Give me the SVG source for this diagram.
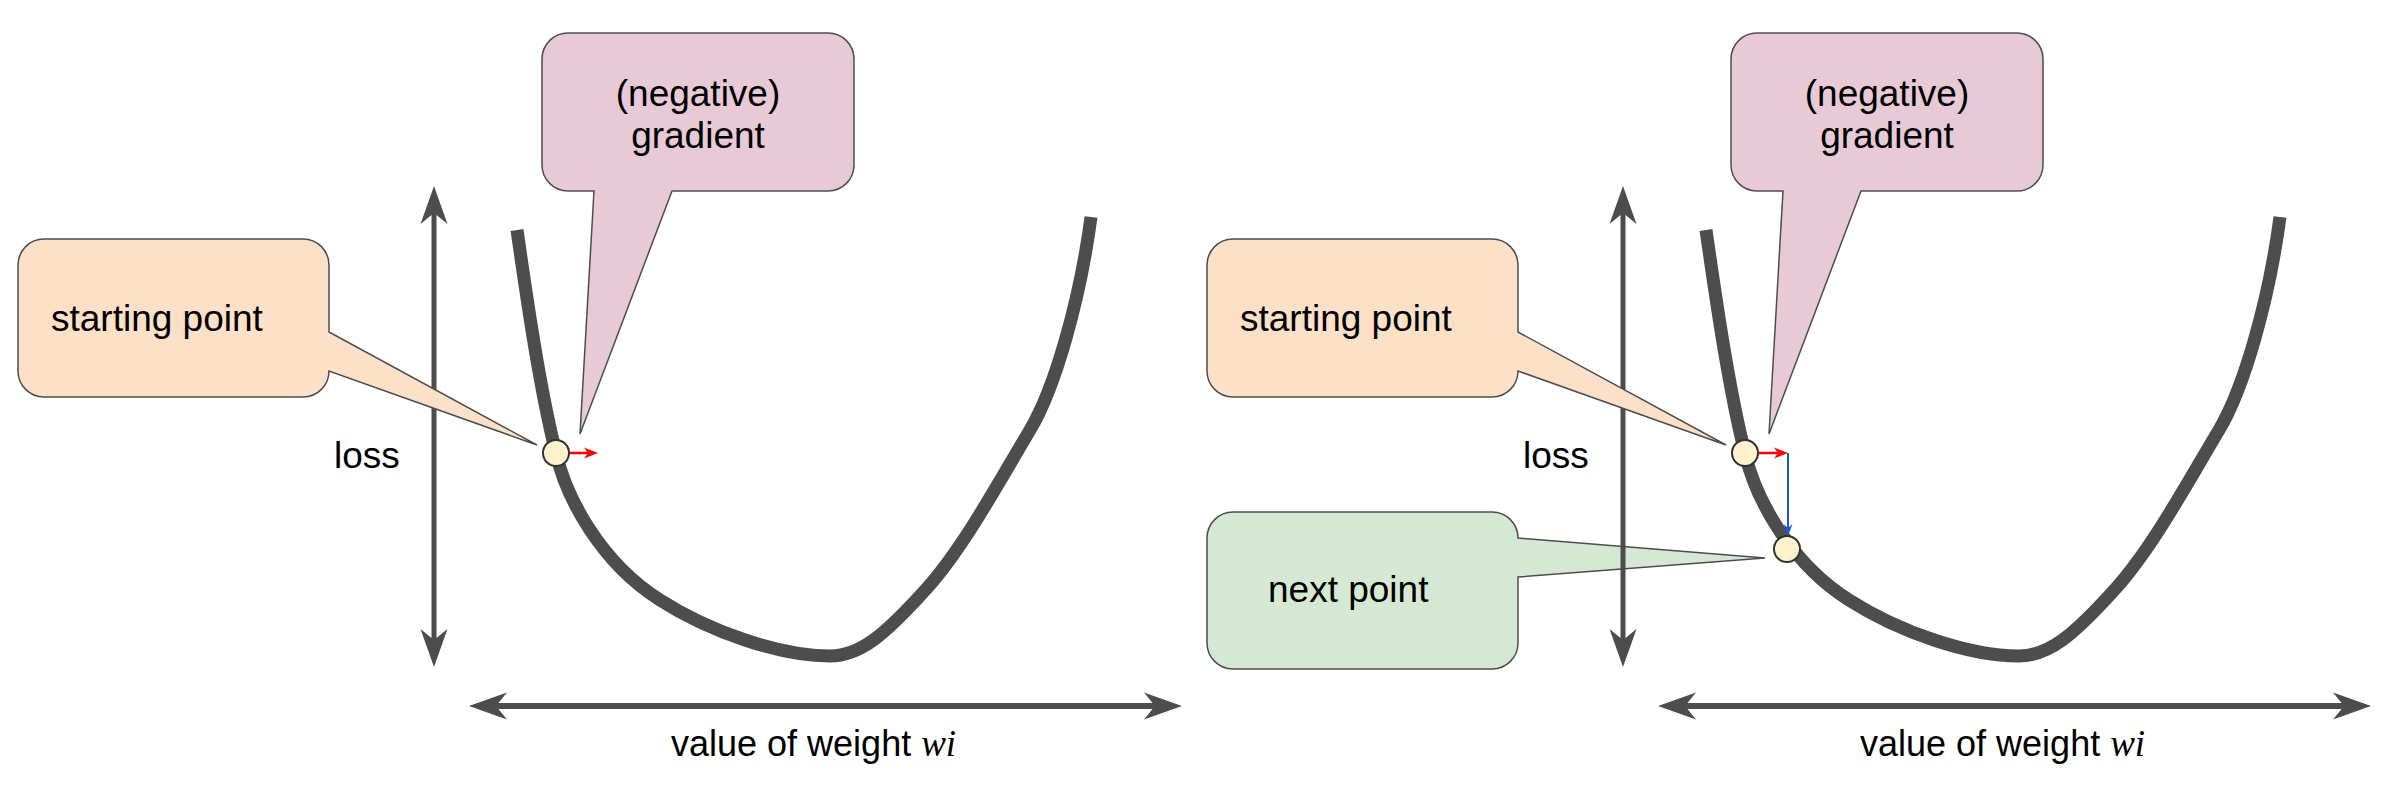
<svg xmlns="http://www.w3.org/2000/svg" width="2382" height="786" viewBox="0 0 2382 786">
<defs>
<style>
.txt{font-family:"Liberation Sans",Arial,Helvetica,sans-serif;font-size:37px;fill:#000}
.ax{font-family:"Liberation Sans",Arial,Helvetica,sans-serif;font-size:36px;fill:#000}
.var{font-family:"Liberation Serif","Times New Roman",serif;font-style:italic;font-size:37px}
.curve{fill:none;stroke:#4D4D4D;stroke-width:13;stroke-linecap:butt}
.axis{fill:none;stroke:#4D4D4D}
.pink{fill:#E8CAD7;stroke:#4D4D4D;stroke-width:1.5}
.orange{fill:#FCE1C8;stroke:#4D4D4D;stroke-width:1.5}
.green{fill:#D5E8D4;stroke:#4D4D4D;stroke-width:1.5}
.pt{fill:#FFF2CC;stroke:#333333;stroke-width:2}
.red{stroke:#FF0000;stroke-width:2.5;fill:none}
.blue{stroke:#1A56DB;stroke-width:2;fill:none}
</style>
<marker id="axhead" viewBox="-40 -15 42 30" markerWidth="42" markerHeight="30" refX="-27" refY="0" orient="auto-start-reverse" markerUnits="userSpaceOnUse">
<path d="M0,0 L-38,-13.5 L-27,0 L-38,13.5 Z" fill="#4D4D4D"/>
</marker>
<marker id="redhead" viewBox="-16 -7 18 14" markerWidth="18" markerHeight="14" refX="-10" refY="0" orient="auto" markerUnits="userSpaceOnUse">
<path d="M0,0 L-14,-5.5 L-10,0 L-14,5.5 Z" fill="#FF0000"/>
</marker>
<marker id="bluehead" viewBox="-14 -6 16 12" markerWidth="16" markerHeight="12" refX="-8" refY="0" orient="auto" markerUnits="userSpaceOnUse">
<path d="M0,0 L-12,-4.5 L-8,0 L-12,4.5 Z" fill="#1A56DB"/>
</marker>
<path id="lossCurve" d="M517,230 C527,300 540,390 556,453 C566,497 600,562 660,600 C710,632 780,656 830,656 C860,656 885,635 928,587 C965,545 1000,480 1030,430 C1055,388 1080,300 1091,217"/>
</defs>

<rect width="2382" height="786" fill="#FFFFFF"/>

<!-- curves -->
<g id="curve-left"><use href="#lossCurve" class="curve"/></g>
<g id="curve-right"><use href="#lossCurve" class="curve" transform="translate(1189,0)"/></g>

<!-- green callout (under axis) -->
<g id="callout-next-point">
<path class="green" d="M1233,512 H1492 A26,26 0 0 1 1518,538 L1765,558 L1518,577 V643 A26,26 0 0 1 1492,669 H1233 A26,26 0 0 1 1207,643 V538 A26,26 0 0 1 1233,512 Z"/>
<text class="txt" x="1268" y="602">next point</text>
</g>

<!-- connectors -->
<g id="connectors">
<line class="axis" stroke-width="5" x1="434" y1="213" x2="434" y2="640" marker-start="url(#axhead)" marker-end="url(#axhead)"/>
<line class="axis" stroke-width="6" x1="496" y1="706" x2="1155" y2="706" marker-start="url(#axhead)" marker-end="url(#axhead)"/>
<line class="axis" stroke-width="5" x1="1623" y1="213" x2="1623" y2="640" marker-start="url(#axhead)" marker-end="url(#axhead)"/>
<line class="axis" stroke-width="6" x1="1685" y1="706" x2="2344" y2="706" marker-start="url(#axhead)" marker-end="url(#axhead)"/>
<line class="red" x1="569" y1="453" x2="588" y2="453" marker-end="url(#redhead)"/>
<line class="red" x1="1757" y1="453" x2="1778" y2="453" marker-end="url(#redhead)"/>
<line class="blue" x1="1788" y1="453" x2="1788" y2="528" marker-end="url(#bluehead)"/>
</g>

<!-- left panel -->
<g id="callout-start-left">
<path class="orange" d="M44,239 H303 A26,26 0 0 1 329,265 V332 L537,445 L329,371 A26,26 0 0 1 303,397 H44 A26,26 0 0 1 18,371 V265 A26,26 0 0 1 44,239 Z"/>
<text class="txt" x="51" y="331">starting point</text>
</g>
<g id="callout-gradient-left">
<path class="pink" d="M568,33 H828 A26,26 0 0 1 854,59 V165 A26,26 0 0 1 828,191 H672 L580,434 L594,191 H568 A26,26 0 0 1 542,165 V59 A26,26 0 0 1 568,33 Z"/>
<text class="txt" text-anchor="middle" x="698" y="106">(negative)</text>
<text class="txt" text-anchor="middle" x="698" y="148">gradient</text>
</g>
<g id="point-start-left"><circle class="pt" cx="556" cy="453" r="13"/></g>
<g id="label-loss-left"><text class="txt" x="334" y="468">loss</text></g>
<g id="label-weight-left"><text class="ax" x="671" y="756">value of weight <tspan class="var">wi</tspan></text></g>

<!-- right panel -->
<g id="callout-start-right">
<path class="orange" d="M1233,239 H1492 A26,26 0 0 1 1518,265 V332 L1726,445 L1518,371 A26,26 0 0 1 1492,397 H1233 A26,26 0 0 1 1207,371 V265 A26,26 0 0 1 1233,239 Z"/>
<text class="txt" x="1240" y="331">starting point</text>
</g>
<g id="callout-gradient-right">
<path class="pink" d="M1757,33 H2017 A26,26 0 0 1 2043,59 V165 A26,26 0 0 1 2017,191 H1861 L1769,434 L1783,191 H1757 A26,26 0 0 1 1731,165 V59 A26,26 0 0 1 1757,33 Z"/>
<text class="txt" text-anchor="middle" x="1887" y="106">(negative)</text>
<text class="txt" text-anchor="middle" x="1887" y="148">gradient</text>
</g>
<g id="point-start-right"><circle class="pt" cx="1745" cy="453" r="13"/></g>
<g id="point-next-right"><circle class="pt" cx="1787" cy="549" r="13"/></g>
<g id="label-loss-right"><text class="txt" x="1523" y="468">loss</text></g>
<g id="label-weight-right"><text class="ax" x="1860" y="756">value of weight <tspan class="var">wi</tspan></text></g>
</svg>
